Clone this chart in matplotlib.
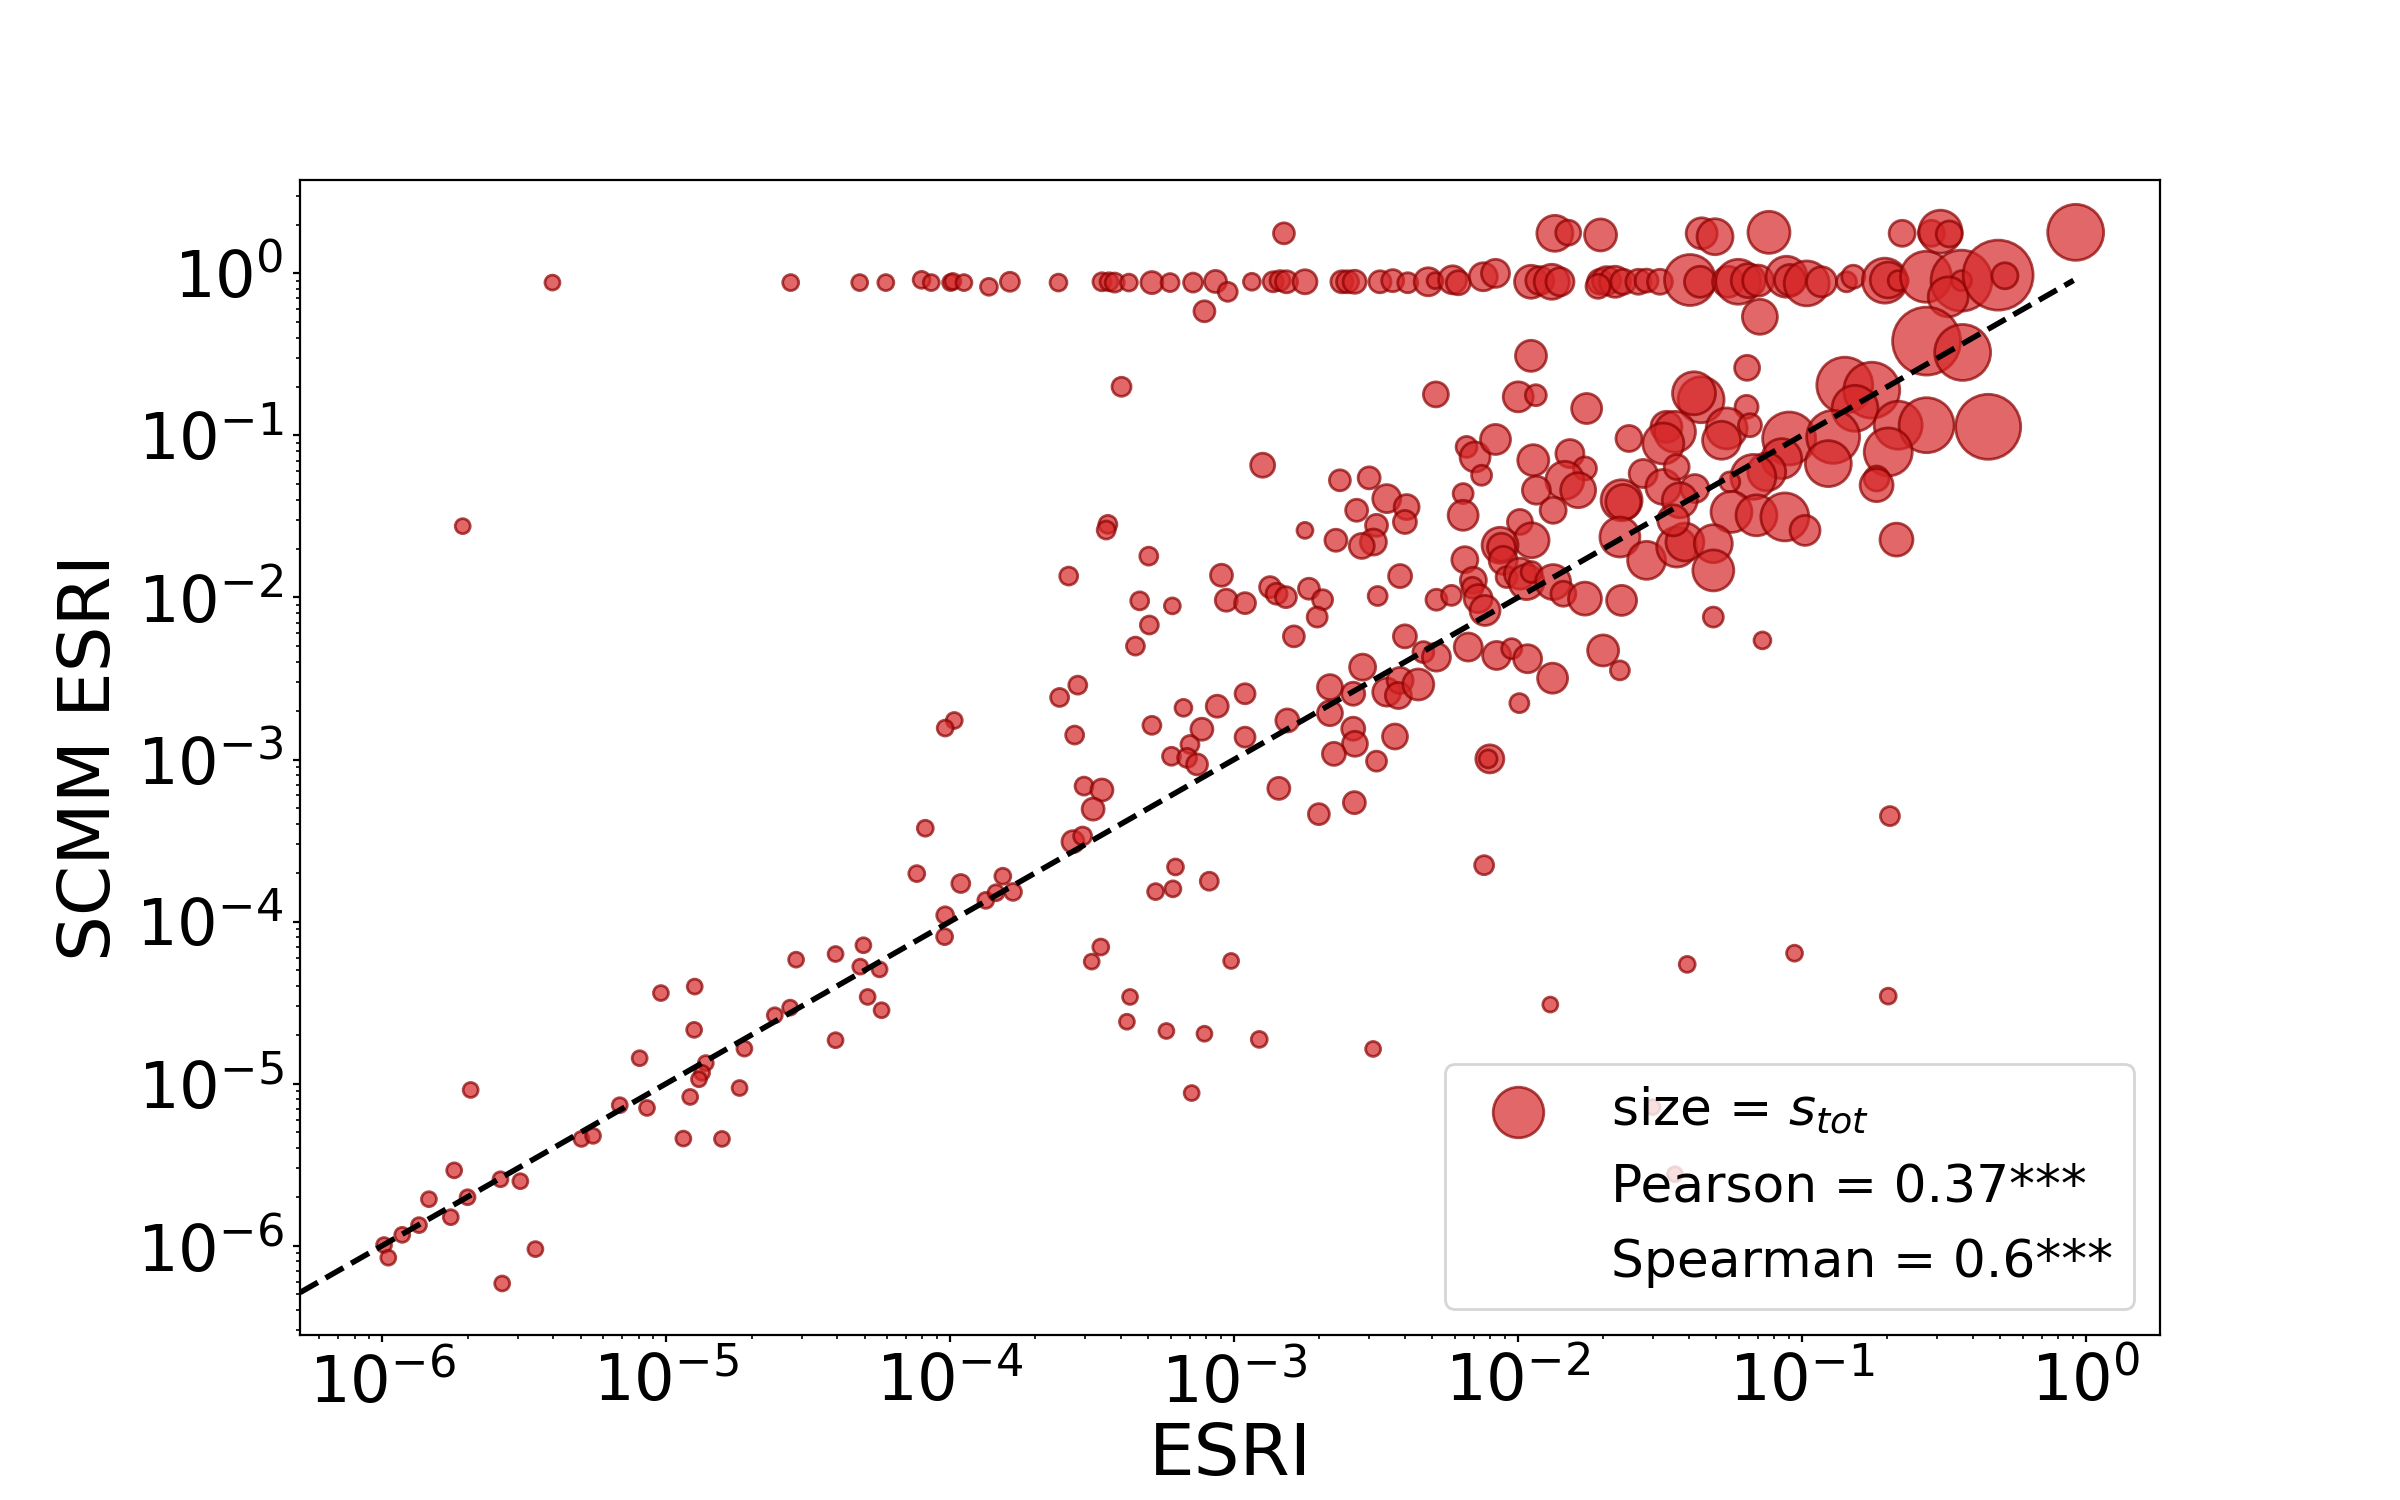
import numpy as np
import matplotlib
matplotlib.use("Agg")
import matplotlib.pyplot as plt
from matplotlib.lines import Line2D

# ---------------- data (log10 values) ----------------
# top row, SCMM ESRI ~ 0.9
esri_top = [-5.40, -4.561, -4.318, -4.226, -4.100, -4.066, -3.998, -3.990, -3.951, -3.863, -3.789,
            -3.618, -3.465, -3.440, -3.420, -3.370, -3.289, -3.225, -3.144, -3.065, -3.022, -3.104,
            -2.937, -2.862, -2.838, -2.815, -2.750, -2.620, -2.600, -2.575, -2.486, -2.441, -2.388,
            -2.316, -2.292, -2.230, -2.210, -2.122, -2.079,
            -1.954, -1.923, -1.881, -1.852, -1.711, -1.688, -1.658, -1.629, -1.718, -1.576, -1.547, -1.500,
            -1.394, -1.359, -1.260, -1.224, -1.189, -1.154, -1.054, -1.042, -0.983, -0.931, -0.843, -0.819,
            -0.708, -0.696, -0.661, -0.563, -0.438, -0.438, -0.485, -0.309, -0.285, -1.148]
scmm_top = [-0.057, -0.057, -0.057, -0.057, -0.040, -0.057, -0.057, -0.050, -0.057, -0.083, -0.052,
            -0.057, -0.052, -0.052, -0.057, -0.057, -0.057, -0.057, -0.057, -0.050, -0.114, -0.234,
            -0.052, -0.052, -0.045, -0.052, -0.052, -0.052, -0.052, -0.052, -0.052, -0.045, -0.058,
            -0.052, -0.045, -0.040, -0.058, -0.021, 0.000,
            -0.052, -0.045, -0.052, -0.052, -0.052, -0.045, -0.052, -0.052, -0.080, -0.052, -0.045, -0.052,
            -0.041, -0.052, -0.052, -0.052, -0.045, -0.045, -0.021, -0.041, -0.062, -0.052, -0.052, -0.021,
            -0.045, -0.041, -0.045, -0.021, -0.045, -0.045, -0.145, -0.011, -0.015, -0.268]
stot_top = [29, 33, 33, 33, 37, 33, 33, 33, 33, 37, 47,
            37, 42, 42, 47, 37, 63, 42, 47, 63, 47, 57,
            37, 52, 52, 63, 75, 63, 63, 69, 63, 63, 52,
            102, 33, 102, 75, 102, 102,
            141, 102, 159, 102, 81, 102, 125, 81, 75, 81, 69, 81,
            337, 125, 125, 262, 150, 125, 218, 125, 262, 117, 52, 69,
            262, 168, 52, 337, 482, 52, 207, 635, 88, 159]

# highest row, SCMM ESRI ~ 1.8
esri_high = [-2.824, -1.870, -1.823, -1.709, -1.353, -1.306, -1.116, -0.647, -0.544, -0.512, -0.481, -0.036]
scmm_high = [0.247, 0.247, 0.251, 0.237, 0.247, 0.226, 0.253, 0.247, 0.247, 0.257, 0.243, 0.253]
stot_high = [57, 168, 81, 133, 125, 168, 229, 88, 88, 240, 88, 406]

# scattered points around 1e-4 .. 1e-3
esri_mid = [-3.396, -5.716, -3.444, -3.450, -3.300, -3.582, -3.044, -3.332, -3.217, -3.027, -3.298,
            -3.347, -3.550, -3.614, -3.985, -4.017, -3.561, -3.289, -3.178, -3.059, -3.113, -3.155,
            -3.220, -3.165, -3.130,
            -3.528, -3.465, -3.496, -4.087, -3.567, -3.533, -4.117, -3.962, -3.814, -3.874, -3.838,
            -3.778, -4.017, -4.019, -3.276, -3.206, -3.215, -3.087, -3.469, -3.501, -3.010, -3.366,
            -3.377, -3.238, -3.104, -3.149]
scmm_mid = [-0.700, -1.560, -1.549, -1.584, -1.745, -1.868, -1.863, -2.021, -2.052, -2.017, -2.170,
            -2.300, -2.541, -2.617, -2.759, -2.806, -2.849, -2.789, -2.681, -2.671, -2.813, -2.907,
            -2.980, -2.990, -3.030,
            -3.164, -3.188, -3.306, -3.424, -3.507, -3.472, -3.704, -3.765, -3.720, -3.869, -3.822,
            -3.817, -3.961, -4.093, -3.815, -3.663, -3.798, -3.751, -4.157, -4.247, -4.243, -4.465,
            -4.618, -4.675, -4.692, -5.058]
stot_mid = [47, 29, 42, 42, 42, 42, 63, 42, 33, 63, 42,
            42, 42, 42, 33, 33, 42, 42, 37, 63, 63, 42,
            42, 47, 57,
            42, 63, 63, 33, 63, 42, 33, 42, 33, 33, 33,
            37, 37, 33, 33, 33, 33, 42, 33, 29, 29, 29,
            29, 29, 29, 29]

# lower-left group
esri_low = [-4.542, -4.403, -4.305, -4.316, -4.248, -4.290, -4.241, -4.403, -4.617, -4.563,
            -5.018, -4.899, -4.901, -5.093, -4.860, -4.873, -4.884, -4.724, -4.741, -4.915,
            -5.163, -5.067, -5.298, -5.257, -4.939, -4.803, -5.688, -5.746, -5.583, -5.513,
            -5.699, -5.835, -5.758, -5.870, -5.929, -5.993, -5.978, -5.460, -5.577]
scmm_low = [-4.235, -4.200, -4.146, -4.278, -4.295, -4.465, -4.547, -4.732, -4.578, -4.531,
            -4.441, -4.401, -4.668, -4.843, -4.873, -4.933, -4.973, -4.784, -5.027, -5.082,
            -5.133, -5.150, -5.341, -5.322, -5.339, -5.341, -5.039, -5.535, -5.590, -5.602,
            -5.701, -5.713, -5.824, -5.873, -5.933, -5.996, -6.074, -6.021, -6.233]
stot_low = [29] * 39

# lower-right outliers
esri_out = [-2.842, -2.701, -2.576, -0.690, -2.119, -1.404, -1.026, -1.886, -0.696, -2.911, -2.510, -1.526, -1.447]
scmm_out = [-3.178, -3.337, -3.266, -3.349, -3.652, -4.264, -4.195, -4.512, -4.460, -4.727, -4.786, -5.145, -5.559]
stot_out = [63, 57, 63, 47, 47, 33, 33, 29, 33, 33, 29, 29, 29]

# main cluster 1e-3 .. 1
esri_clu = [-1.954, -2.289, -1.999, -1.937, -1.758, -1.193, -0.561, -0.434, -1.355, -1.380, -0.849, -0.754, -0.813, -1.195,
            -2.899, -2.627, -2.524, -2.462, -2.392, -2.398, -2.568, -2.498, -2.509, -2.550,
            -2.750, -2.641, -2.415, -2.873, -2.850, -2.817, -2.736, -2.688, -2.707, -2.961,
            -2.789, -2.494, -2.287, -2.234, -2.187, -2.157, -2.160, -2.140, -2.116, -2.193,
            -2.193, -2.181, -2.151, -2.128, -2.079,
            -1.946, -1.817, -1.764, -1.835, -1.788, -1.935, -1.876, -1.993, -1.952, -2.063,
            -2.058, -2.052, -2.040, -1.993, -1.970, -1.952, -1.876, -1.840, -1.764, -1.635,
            -1.700, -1.641, -1.995,
            -2.398, -2.333, -2.287, -2.175, -2.075, -2.022, -1.966, -1.878, -2.547, -2.662,
            -2.580, -2.462, -2.415, -2.421, -2.351, -2.961, -2.812, -2.662, -2.961, -2.580,
            -2.574, -2.648, -2.498, -2.433, -2.099, -2.105,
            -1.609, -1.477, -1.447, -1.488, -1.635, -1.629, -1.559, -1.488, -1.441, -1.377,
            -1.641, -1.547, -1.441, -1.412, -1.430, -1.453,
            -1.265, -1.183, -1.283, -1.045, -0.890, -0.907, -0.661, -0.561, -0.344, -0.696,
            -0.737, -0.737, -0.667, -1.071, -1.124, -1.171, -1.254, -1.248, -1.160, -1.060,
            -0.989, -1.312, -1.312, -1.312, -1.139]
scmm_clu = [-0.509, -0.747, -0.762, -0.752, -0.834, -0.583, -0.418, -0.488, -0.780, -0.740, -0.690, -0.721, -0.833, -0.824,
            -1.184, -1.277, -1.262, -1.390, -1.442, -1.534, -1.462, -1.555, -1.658, -1.682,
            -1.586, -1.647, -1.868, -1.936, -1.977, -1.998, -1.946, -2.014, -2.121, -2.035,
            -2.240, -1.991, -2.014, -1.987, -1.767, -1.894, -1.940, -2.007, -2.080, -1.359,
            -1.493, -1.071, -1.133, -1.246, -1.025,
            -1.153, -1.112, -1.204, -1.277, -1.338, -1.338, -1.462, -1.534, -1.647, -1.678,
            -1.690, -1.771, -1.874, -1.853, -1.905, -1.843, -1.905, -1.977, -2.007, -2.018,
            -2.327, -2.450, -2.652,
            -2.240, -2.337, -2.368, -2.306, -2.358, -2.316, -2.378, -2.498, -2.430, -2.553,
            -2.594, -2.584, -2.512, -2.605, -2.537, -2.594, -2.759, -2.714, -2.862, -2.810,
            -2.903, -2.965, -3.010, -2.858, -2.996, -2.996,
            -1.019, -0.947, -0.978, -1.050, -1.400, -1.411, -1.235, -1.318, -1.195, -1.328,
            -1.627, -1.771, -1.689, -1.658, -1.400, -1.524,
            -0.957, -0.937, -1.030, -1.019, -1.009, -1.174, -0.937, -0.937, -0.947, -1.102,
            -1.266, -1.307, -1.643, -1.143, -1.225, -1.256, -1.287, -1.472, -1.493, -1.503,
            -1.586, -1.668, -1.833, -2.121, -2.265]
stot_clu = [125, 81, 117, 57, 117, 81, 599, 406, 274, 240, 406, 406, 274, 69,
            75, 57, 63, 102, 81, 69, 63, 63, 88, 81,
            33, 63, 69, 57, 57, 57, 57, 52, 52, 57,
            57, 47, 57, 52, 88, 88, 57, 102, 117, 52,
            117, 57, 117, 52, 117,
            125, 102, 69, 187, 159, 102, 88, 81, 159, 168,
            102, 102, 57, 125, 159, 57, 159, 81, 141, 117,
            125, 47, 47,
            69, 57, 102, 102, 102, 52, 102, 117, 88, 81,
            69, 102, 88, 88, 125, 52, 69, 81, 52, 69,
            81, 69, 52, 81, 102, 42,
            88, 125, 218, 218, 218, 159, 102, 159, 81, 102,
            207, 187, 207, 187, 159, 125,
            218, 69, 187, 364, 364, 274, 299, 392, 548, 299,
            81, 141, 141, 207, 187, 262, 52, 218, 218, 299,
            117, 187, 218, 52, 37]

legend_labels = ["size = $s_{tot}$", "Pearson = 0.37***", "Spearman = 0.6***"]
x_label = "ESRI"
y_label = "SCMM ESRI"
diag_end = 0.905

# ---------------- assemble ----------------
esri_log10 = esri_top + esri_high + esri_mid + esri_low + esri_out + esri_clu
scmm_log10 = scmm_top + scmm_high + scmm_mid + scmm_low + scmm_out + scmm_clu
s_tot = stot_top + stot_high + stot_mid + stot_low + stot_out + stot_clu
assert len(esri_log10) == len(scmm_log10) == len(s_tot)

esri = 10.0 ** np.array(esri_log10)
scmm = 10.0 ** np.array(scmm_log10)

fig, ax = plt.subplots(figsize=(12, 7.5), dpi=200)
sc = ax.scatter(esri, scmm, s=s_tot, c="tab:red", edgecolors="darkred",
                linewidths=1.0, alpha=0.7, zorder=2)
ax.set_xscale("log")
ax.set_yscale("log")
xmin, xmax = 10 ** -6.289, 10 ** 0.261
ax.set_xlim(xmin, xmax)
ax.set_ylim(10 ** -6.551, 10 ** 0.576)
ax.plot([xmin, diag_end], [xmin, diag_end], "k--", lw=2, zorder=3)

ax.set_xlabel(x_label, fontsize=26, labelpad=2)
ax.set_ylabel(y_label, fontsize=26)
ax.tick_params(axis="both", which="major", labelsize=23, length=2.4, width=0.8)
ax.tick_params(axis="both", which="minor", length=1.4, width=0.6)

handles = [sc, Line2D([], [], linestyle="none"), Line2D([], [], linestyle="none")]
ax.legend(handles, legend_labels, loc="lower right", fontsize=18.7)

fig.savefig("out.png", dpi=200)
